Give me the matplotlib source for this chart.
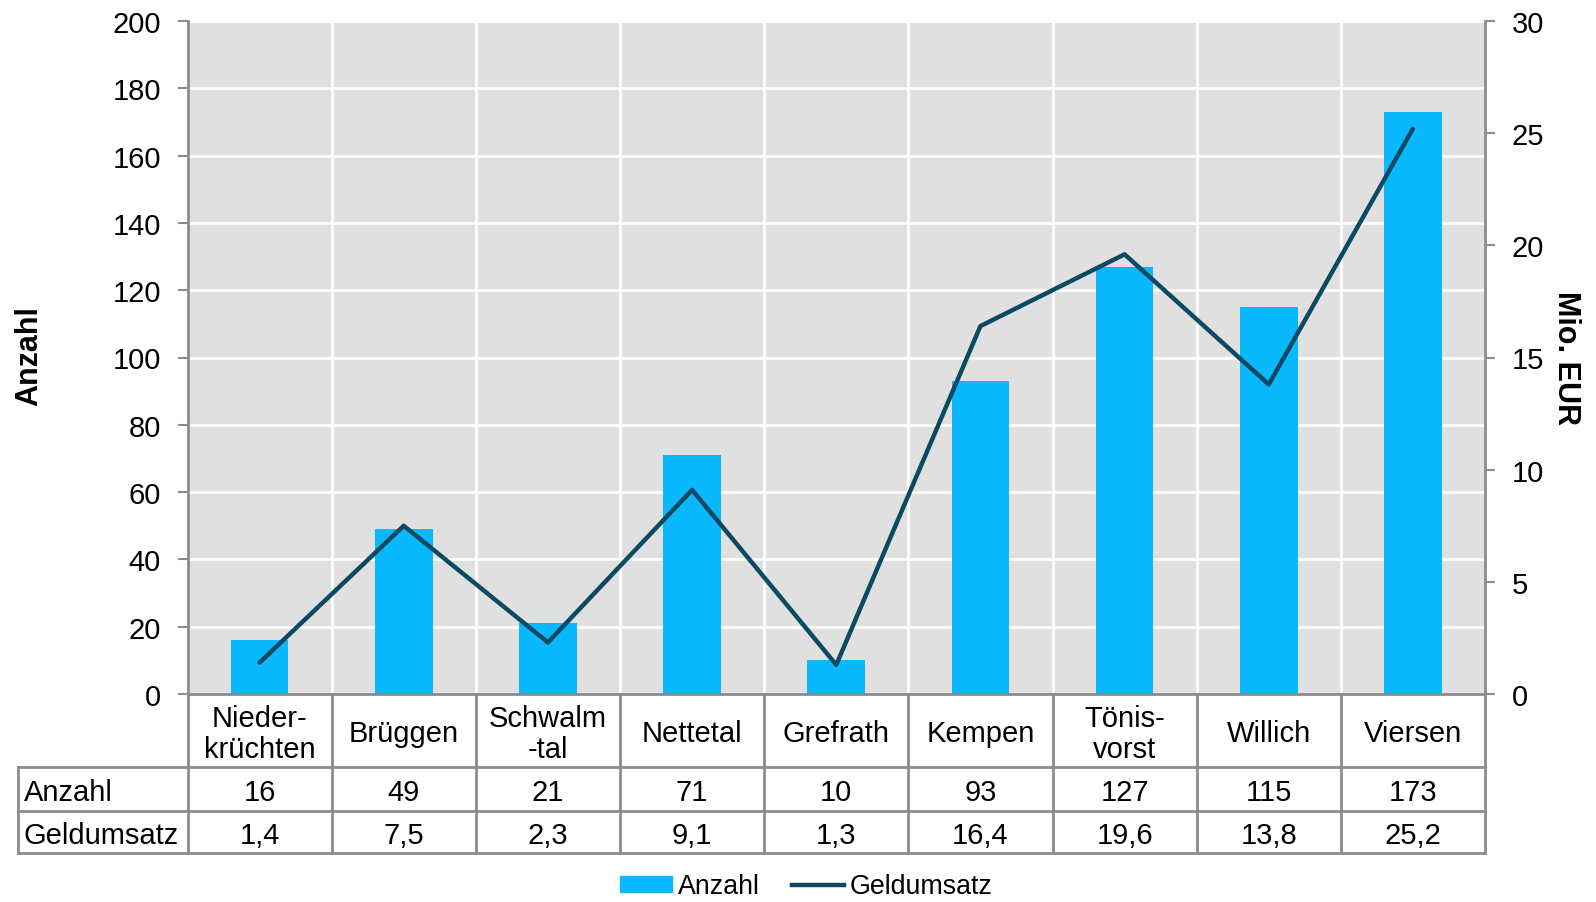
import matplotlib
matplotlib.use("Agg")
import matplotlib.pyplot as plt
from matplotlib.transforms import blended_transform_factory
from matplotlib.patches import Patch
from matplotlib.lines import Line2D

plt.rcParams['font.family'] = ['Liberation Sans', 'DejaVu Sans']

categories = ["Nieder-\nkrüchten", "Brüggen", "Schwalm\n-tal", "Nettetal", "Grefrath",
              "Kempen", "Tönis-\nvorst", "Willich", "Viersen"]
anzahl = [16, 49, 21, 71, 10, 93, 127, 115, 173]
geldumsatz = [1.4, 7.5, 2.3, 9.1, 1.3, 16.4, 19.6, 13.8, 25.2]
anzahl_labels = ["16", "49", "21", "71", "10", "93", "127", "115", "173"]
geld_labels = ["1,4", "7,5", "2,3", "9,1", "1,3", "16,4", "19,6", "13,8", "25,2"]
row_names = ["Anzahl", "Geldumsatz"]

BAR = "#09b8fd"
LINE = "#0b4a62"
BG = "#e0e0e0"
EDGE = "#8c8c8c"
FS = 21
FS_LEG = 19.3

W, H = 1596, 903
fig = plt.figure(figsize=(W / 100, H / 100), dpi=100)
x0, x1, ytop, ybot = 187.5, 1485, 22, 695
ax = fig.add_axes([x0 / W, 1 - ybot / H, (x1 - x0) / W, (ybot - ytop) / H])
ax.set_facecolor(BG)

n = len(categories)
xs = list(range(n))
ax.bar(xs, anzahl, width=0.4, color=BAR, zorder=2)
ax.set_xlim(-0.5, n - 0.5)
ax.set_ylim(0, 200)
ax.set_yticks(range(0, 201, 20))
ax.set_xticks([])
for v in range(20, 201, 20):
    ax.axhline(v, color="white", lw=2, zorder=1)
for b in range(1, n):
    ax.axvline(b - 0.5, color="white", lw=2, zorder=1)

ax2 = ax.twinx()
ax2.plot(xs, geldumsatz, color=LINE, lw=3.2, solid_capstyle="round", zorder=3)
ax2.set_ylim(0, 30)
ax2.set_yticks(range(0, 31, 5))

for a in (ax, ax2):
    for s in a.spines.values():
        s.set_visible(False)
    a.tick_params(axis="y", labelsize=FS, length=7, width=1.5, color=EDGE, pad=12)
ax.spines["left"].set_visible(True)
ax.spines["left"].set_color(EDGE)
ax.spines["left"].set_linewidth(2)
ax2.spines["right"].set_visible(True)
ax2.spines["right"].set_color(EDGE)
ax2.spines["right"].set_linewidth(2)

ax.set_ylabel("Anzahl", fontsize=22, fontweight="bold", va="center")
ax.yaxis.set_label_coords(-0.122, 0.504)
ax2.set_ylabel("Mio. EUR", fontsize=22, fontweight="bold", rotation=-90, va="center")
ax2.yaxis.set_label_coords(1.0625, 0.5)

# data table below the axes
tr = blended_transform_factory(ax.transData, ax.transAxes)
ph = ybot - ytop
def yax(py):
    return (ybot - py) / ph
r0, r1, r2, r3 = yax(695), yax(768), yax(812), yax(854)
xl = -0.5 - (x0 - 18) / ((x1 - x0) / n)
lk = dict(color=EDGE, lw=2, transform=tr, clip_on=False, zorder=5)
ax.plot([-0.5, n - 0.5], [r0, r0], **lk)
for yy in (r1, r2, r3):
    ax.plot([xl, n - 0.5], [yy, yy], **lk)
for b in range(n + 1):
    ax.plot([b - 0.5, b - 0.5], [r0, r3], **lk)
ax.plot([xl, xl], [r1, r3], **lk)

dy = 3 / ph
for i in range(n):
    ax.text(i, (r0 + r1) / 2 - dy, categories[i], transform=tr, ha="center", va="center",
            fontsize=FS, linespacing=1.15)
    ax.text(i, (r1 + r2) / 2 - dy, anzahl_labels[i], transform=tr, ha="center", va="center", fontsize=FS)
    ax.text(i, (r2 + r3) / 2 - dy, geld_labels[i], transform=tr, ha="center", va="center", fontsize=FS)
xlab = xl + 6 / ((x1 - x0) / n)
ax.text(xlab, (r1 + r2) / 2 - dy, row_names[0], transform=tr, ha="left", va="center", fontsize=FS)
ax.text(xlab, (r2 + r3) / 2 - dy, row_names[1], transform=tr, ha="left", va="center", fontsize=FS)

handles = [Patch(color=BAR, label="Anzahl"),
           Line2D([0], [0], color=LINE, lw=3.2, label="Geldumsatz")]
fig.legend(handles=handles, loc="lower center", bbox_to_anchor=(0.505, -0.012), ncol=2,
           frameon=False, fontsize=FS_LEG, handlelength=1.95, handleheight=0.5,
           handletextpad=0.2, columnspacing=1.2, borderpad=0)

fig.savefig("out.png", dpi=100)
